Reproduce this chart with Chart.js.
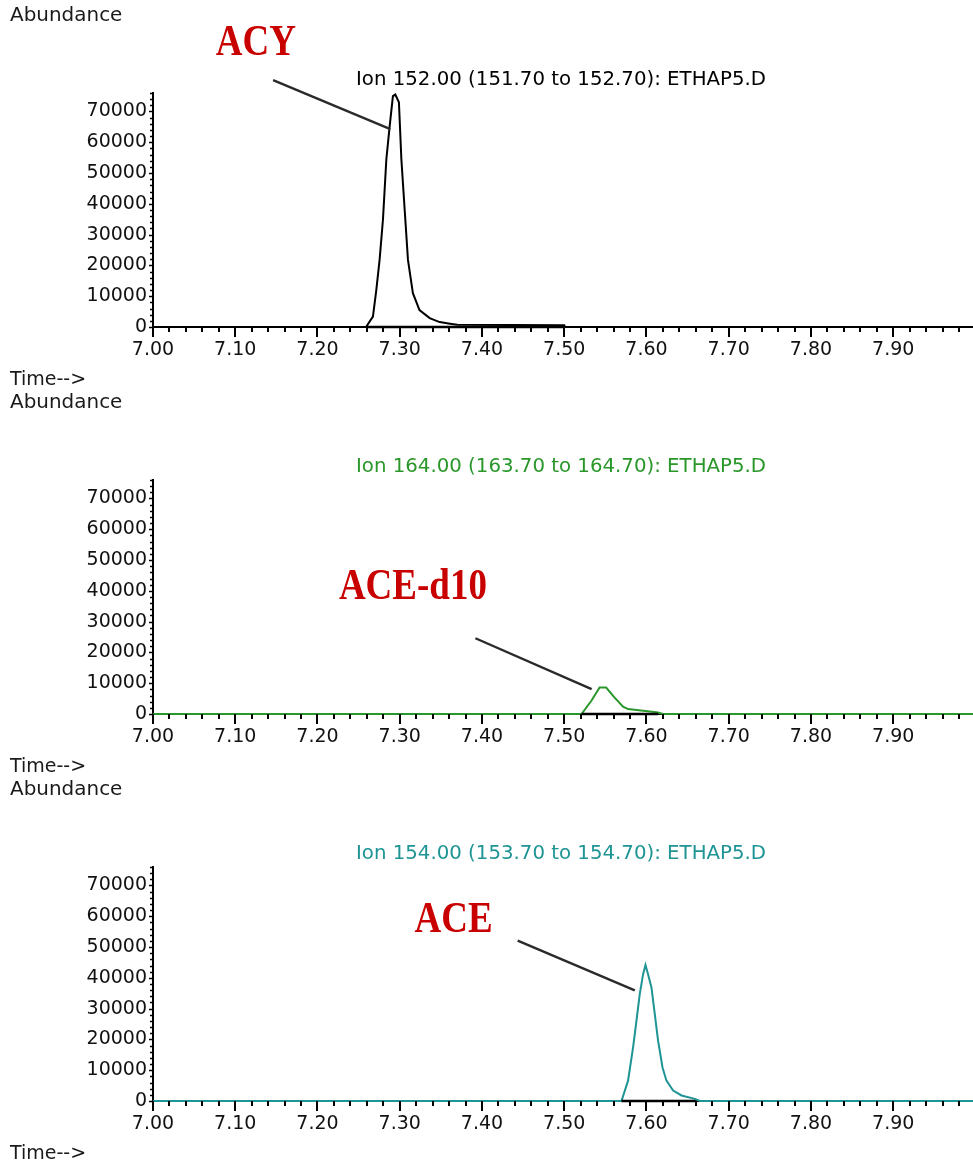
<!DOCTYPE html>
<html>
<head>
<meta charset="utf-8">
<title>Extracted ion chromatograms – ETHAP5.D</title>
<script src="https://cdn.jsdelivr.net/npm/chart.js@4.4.1/dist/chart.umd.min.js"></script>
<style>
  html, body { margin: 0; padding: 0; background: #fff; }
  canvas { display: block; }
</style>
</head>
<body>
<canvas id="p1" width="973" height="387"></canvas>
<canvas id="p2" width="973" height="387"></canvas>
<canvas id="p3" width="973" height="391"></canvas>
<script>
// Axis ticks and labels
const xMajorTicks = [7.00, 7.10, 7.20, 7.30, 7.40, 7.50, 7.60, 7.70, 7.80, 7.90];
const xTickLabels = ['7.00', '7.10', '7.20', '7.30', '7.40', '7.50', '7.60', '7.70', '7.80', '7.90'];
const yMajorTicks = [0, 10000, 20000, 30000, 40000, 50000, 60000, 70000];
const yTickLabels = ['0', '10000', '20000', '30000', '40000', '50000', '60000', '70000'];

// Ion 152 trace (ACY)
const acyTime  = [7.000, 7.259, 7.2674, 7.2715, 7.2755, 7.2796, 7.2837, 7.2877, 7.2917, 7.2946, 7.2990, 7.3020, 7.3060, 7.3100, 7.3160, 7.3240, 7.3364, 7.3485, 7.3630, 7.3700, 7.5000, 7.5010, 8.000];
const acyAbund = [0,     0,     3400,   12000,  21800,  34900,  54400,  65100,  75000,  75500,  73000,  54400,  38100,  21800,  11000,  5500,   2900,   1600,   1000,   700,    600,    0,      0];
const acyBaseline = [7.259, 7.500];

// Ion 164 trace (ACE-d10)
const aceD10Time  = [7.000, 7.521, 7.533, 7.543, 7.551, 7.561, 7.5715, 7.5776, 7.588, 7.6016, 7.614, 7.620, 8.000];
const aceD10Abund = [0,     0,     4300,  8600,  8600,  5400,  2400,   1600,   1300,  900,    500,   0,     0];
const aceD10Baseline = [7.521, 7.614];

// Ion 154 trace (ACE)
const aceTime  = [7.000, 7.5696, 7.5776, 7.5837, 7.5878, 7.5918, 7.5959, 7.5988, 7.6019, 7.6061, 7.6101, 7.6141, 7.6195, 7.6243, 7.6324, 7.6426, 7.6588, 7.6650, 8.000];
const aceAbund = [0,     0,      6600,   17400,  26000,  34700,  41200,  44200,  41200,  36800,  28200,  19600,  10900,  6600,   3400,   1800,   700,    0,      0];
const aceBaseline = [7.5696, 7.6588];

const FONT = "'DejaVu Sans', sans-serif";
Chart.defaults.font.family = FONT;
Chart.defaults.font.size = 19;
Chart.defaults.color = '#111';

// Decorations: axis tick marks, captions, ion title and peak callouts
const decor = {
  id: 'decor',
  afterDraw(chart, args, opts) {
    const { ctx, chartArea: ca } = chart;
    const xs = chart.scales.x, ys = chart.scales.y;
    ctx.save();

    // x tick marks (major every 0.1, minor every 0.02), pointing down
    ctx.strokeStyle = '#000';
    ctx.lineWidth = 2;
    for (let k = 0; k < 50; k++) {
      const v = 7 + k * 0.02;
      const px = Math.round(xs.getPixelForValue(v));
      const len = (k % 5 === 0) ? 10 : 5;
      ctx.beginPath();
      ctx.moveTo(px, ca.bottom);
      ctx.lineTo(px, ca.bottom + len);
      ctx.stroke();
    }
    // y tick marks, pointing left
    ctx.lineWidth = 1.5;
    for (let v = 0; v <= ys.max; v += 2000) {
      const py = Math.round(ys.getPixelForValue(v)) + 0.5;
      const len = (v % 10000 === 0) ? 4 : 3;
      ctx.beginPath();
      ctx.moveTo(ca.left - len, py);
      ctx.lineTo(ca.left, py);
      ctx.stroke();
    }

    // captions
    ctx.font = '19px ' + FONT;
    ctx.fillStyle = '#1a1a1a';
    ctx.textBaseline = 'middle';
    ctx.textAlign = 'left';
    ctx.save();
    ctx.translate(10, 16);
    ctx.scale(1.05, 1);
    ctx.fillText('Abundance', 0, 0);
    ctx.restore();
    ctx.fillText('Time-->', 10, ca.bottom + 53);

    // ion title
    ctx.fillStyle = opts.titleColor;
    const w = ctx.measureText(opts.title).width;
    ctx.save();
    ctx.translate(561, 80);
    ctx.scale(410 / w, 1);
    ctx.textAlign = 'center';
    ctx.fillText(opts.title, 0, 0);
    ctx.restore();

    // peak callout: leader line and label
    const c = opts.callout;
    ctx.strokeStyle = '#2a2a2a';
    ctx.lineWidth = 2.4;
    ctx.beginPath();
    ctx.moveTo(xs.getPixelForValue(c.from[0]), ys.getPixelForValue(c.from[1]));
    ctx.lineTo(xs.getPixelForValue(c.to[0]), ys.getPixelForValue(c.to[1]));
    ctx.stroke();

    ctx.save();
    ctx.translate(xs.getPixelForValue(c.at[0]), ys.getPixelForValue(c.at[1]));
    ctx.scale(1, 1.2);
    ctx.font = "bold 37px 'Liberation Serif', serif";
    ctx.fillStyle = '#c80000';
    ctx.textAlign = 'center';
    ctx.textBaseline = 'middle';
    ctx.fillText(c.text, 0, 0);
    ctx.restore();

    ctx.restore();
  }
};

function chromPanel(id, times, values, baseline, color, title, callout) {
  const canvas = document.getElementById(id);
  const H = canvas.height;
  return new Chart(canvas, {
    type: 'line',
    data: {
      datasets: [
        {
          data: [{ x: baseline[0], y: 0 }, { x: baseline[1], y: 0 }],
          borderColor: '#000',
          borderWidth: 2.5,
          pointRadius: 0,
          tension: 0,
          clip: false,
          order: 0
        },
        {
          data: times.map((t, i) => ({ x: t, y: values[i] })),
          borderColor: color,
          borderWidth: 2,
          pointRadius: 0,
          tension: 0,
          clip: false,
          order: 1
        }
      ]
    },
    options: {
      responsive: false,
      animation: false,
      layout: { padding: { top: 93, left: 0, right: 0, bottom: 0 } },
      plugins: {
        legend: { display: false },
        tooltip: { enabled: false },
        decor: { title, titleColor: color, callout }
      },
      scales: {
        x: {
          type: 'linear',
          min: 7.0,
          max: 7.997,
          grid: { display: false, drawTicks: false },
          border: { display: true, color: '#000', width: 2 },
          afterBuildTicks: s => { s.ticks = xMajorTicks.map(v => ({ value: v })); },
          afterFit: s => { s.height = H - 327; },
          ticks: {
            padding: 12,
            maxRotation: 0,
            autoSkip: false,
            color: '#111',
            callback: (v, i) => xTickLabels[i]
          }
        },
        y: {
          type: 'linear',
          min: 0,
          max: 76000,
          grid: { display: false, drawTicks: false },
          border: { display: true, color: '#000', width: 2 },
          afterBuildTicks: s => { s.ticks = yMajorTicks.map(v => ({ value: v })); },
          afterFit: s => { s.width = 153; },
          ticks: {
            padding: 6,
            autoSkip: false,
            color: '#111',
            callback: (v, i) => yTickLabels[i]
          }
        }
      }
    },
    plugins: [decor]
  });
}

chromPanel('p1', acyTime, acyAbund, acyBaseline, '#000000',
  'Ion 152.00 (151.70 to 152.70): ETHAP5.D',
  { text: 'ACY', at: [7.125, 92200], from: [7.146, 80200], to: [7.2886, 64300] });

chromPanel('p2', aceD10Time, aceD10Abund, aceD10Baseline, '#2a972a',
  'Ion 164.00 (163.70 to 164.70): ETHAP5.D',
  { text: 'ACE-d10', at: [7.316, 41100], from: [7.392, 24600], to: [7.5333, 8100] });

chromPanel('p3', aceTime, aceAbund, aceBaseline, '#1f9494',
  'Ion 154.00 (153.70 to 154.70): ETHAP5.D',
  { text: 'ACE', at: [7.3655, 58600], from: [7.4434, 52100], to: [7.5858, 35900] });
</script>
</body>
</html>
